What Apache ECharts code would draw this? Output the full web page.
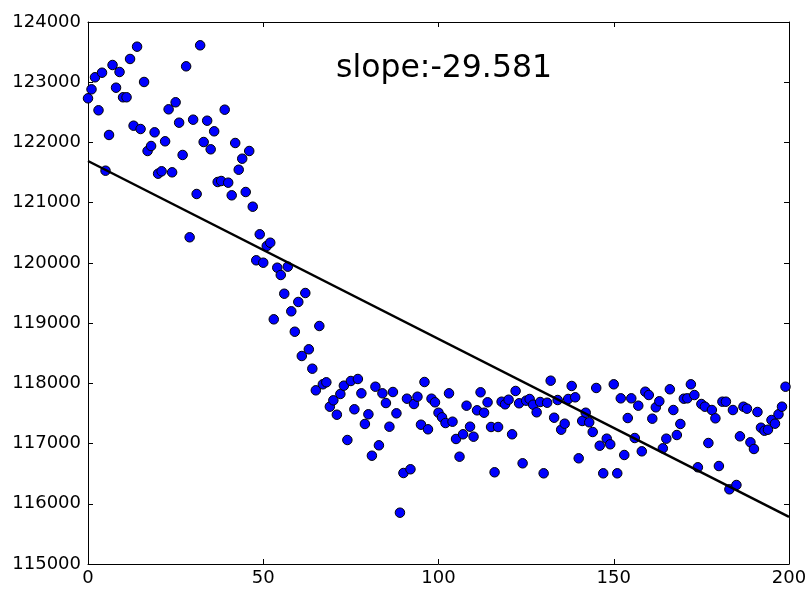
<!DOCTYPE html>
<html>
<head>
<meta charset="utf-8">
<script src="https://cdn.jsdelivr.net/npm/echarts@6/dist/echarts.min.js"></script>
<style>
html,body{margin:0;padding:0;background:#fff;}
#chart{width:811px;height:589px;}
</style>
</head>
<body>
<div id="chart"></div>
<script>
// Observed values, one per sample index (x = 0,1,2,...)
const values = [
122733,122882,123082,122534,123158,121531,122124,123286,122909,123170,
122750,122750,123386,122278,123590,122223,123004,121858,121941,122168,
121481,121521,122019,122550,121504,122667,122328,121792,123264,120425,
122378,121144,123613,122007,122361,121886,122185,121343,121360,122544,
121332,121122,121991,121547,121730,121177,121858,120933,120043,120475,
120003,120280,120335,119063,119920,119799,119488,119937,119196,118857,
119351,118454,119500,118565,118243,117884,118952,117984,118017,117612,
117718,117479,117823,117961,117059,118039,117569,118072,117834,117325,
117486,116798,117944,116971,117834,117673,117280,117856,117502,115852,
116511,117745,116573,117657,117778,117313,118022,117237,117745,117685,
117512,117436,117341,117834,117363,117076,116782,117154,117629,117280,
117114,117552,117851,117512,117685,117275,116523,117275,117695,117652,
117728,117154,117873,117669,116672,117712,117740,117645,117519,117690,
116506,117678,118044,117429,117723,117230,117330,117740,117956,117768,
116755,117375,117512,117353,117192,117923,116964,116506,117081,116988,
117984,116506,117751,116810,117424,117751,117092,117629,116871,117861,
117806,117413,117602,117702,116921,117081,117901,117557,117142,117325,
117745,117751,117984,117806,116606,117657,117612,117009,117557,117419,
116627,117695,117695,116240,117557,116312,117120,117612,117579,117021,
116910,117524,117263,117213,117230,117391,117330,117486,117612,117944
];
const slopeText = 'slope:-29.581';
const xTicks = [0, 50, 100, 150, 200];
const yTicks = [115000, 116000, 117000, 118000, 119000, 120000, 121000, 122000, 123000, 124000];

// points (index, value)
const points = values.map((v, i) => [i, v]);

// least-squares fit computed from the data
const n = values.length;
let sx = 0, sy = 0, sxx = 0, sxy = 0;
values.forEach((v, i) => { sx += i; sy += v; sxx += i * i; sxy += i * v; });
const slope = (n * sxy - sx * sy) / (n * sxx - sx * sx);
const intercept = (sy - slope * sx) / n;
const xMin = xTicks[0], xMax = xTicks[xTicks.length - 1];
const fitLine = [[xMin, intercept + slope * xMin], [xMax, intercept + slope * xMax]];

const font = 'DejaVu Sans';
const chart = echarts.init(document.getElementById('chart'), null, {renderer: 'canvas'});
const axisCommon = {
  axisLine: {show: true, onZero: false, lineStyle: {color: '#000', width: 1}},
  axisTick: {show: true, inside: true, length: 5, lineStyle: {color: '#000', width: 1}},
  splitLine: {show: false}
};
chart.setOption({
  animation: false,
  backgroundColor: '#fff',
  grid: {left: 88, right: 22, top: 22, bottom: 25, containLabel: false},
  xAxis: [
    Object.assign({type: 'value', min: xMin, max: xMax, interval: 50, position: 'bottom',
      axisLabel: {color: '#000', fontFamily: font, fontSize: 18, margin: 5,
        formatter: v => String(v)}}, axisCommon),
    Object.assign({type: 'value', min: xMin, max: xMax, interval: 50, position: 'top',
      axisLabel: {show: false}}, axisCommon)
  ],
  yAxis: [
    Object.assign({type: 'value', min: yTicks[0], max: yTicks[yTicks.length - 1], interval: 1000, position: 'left',
      axisLabel: {color: '#000', fontFamily: font, fontSize: 18, margin: 7,
        formatter: v => String(v)}}, axisCommon),
    Object.assign({type: 'value', min: yTicks[0], max: yTicks[yTicks.length - 1], interval: 1000, position: 'right',
      axisLabel: {show: false}}, axisCommon)
  ],
  title: {
    text: slopeText, left: 331, top: 48,
    textStyle: {fontFamily: font, fontSize: 31.5, fontWeight: 'normal', color: '#000'}
  },
  series: [
    {
      type: 'scatter', data: points, symbol: 'circle', symbolSize: 9.5, z: 2,
      itemStyle: {color: '#0000ff', borderColor: '#000', borderWidth: 1, opacity: 1}
    },
    {
      type: 'line', data: fitLine, symbol: 'none', z: 3,
      lineStyle: {color: '#000', width: 2.5}
    }
  ]
});
</script>
</body>
</html>
